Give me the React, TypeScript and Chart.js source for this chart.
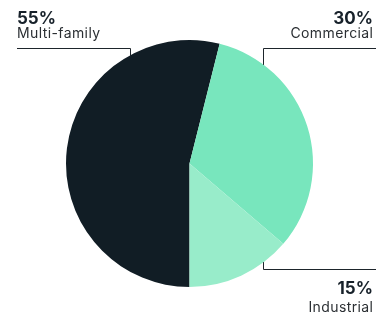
import React, { useEffect, useRef } from "react";
import { Chart, registerables } from "chart.js";

Chart.register(...registerables);

const categories = ["Multi-family", "Commercial", "Industrial"];
const values = [55, 33, 14];
const percentLabels = ["55%", "30%", "15%"];
const colors = ["#111d25", "#78e6bd", "#98ecca"];

const calloutPlugin = {
  id: "callouts",
  afterDatasetsDraw(chart: any) {
    const meta = chart.getDatasetMeta(0);
    const arc = meta.data[0];
    if (!arc) return;
    const cx = arc.x;
    const cy = arc.y;
    const r = arc.outerRadius;
    const ctx = chart.ctx;
    const W = chart.width;
    ctx.save();
    ctx.strokeStyle = "#1d252b";
    ctx.lineWidth = 1;
    const edgeY = (dx: number, sign: number) => cy + sign * Math.sqrt(r * r - dx * dx);
    const top = cy - r;
    const bottom = cy + r;
    const specs = [
      { i: 0, right: false, lineY: top + 8, dx: -60, sign: -1, pBase: top - 15.7, lBase: top - 2 },
      { i: 1, right: true, lineY: top + 8, dx: 73, sign: -1, pBase: top - 15.7, lBase: top - 2 },
      { i: 2, right: true, lineY: bottom - 18, dx: 73, sign: 1, pBase: bottom + 7.3, lBase: bottom + 25 },
    ];
    specs.forEach((s) => {
      const vx = Math.round(cx + s.dx) + 0.5;
      const ly = Math.round(s.lineY) + 0.5;
      const ey = edgeY(s.dx, s.sign) - s.sign * 1;
      ctx.beginPath();
      if (s.right) {
        ctx.moveTo(W, ly);
        ctx.lineTo(vx, ly);
      } else {
        ctx.moveTo(17, ly);
        ctx.lineTo(vx, ly);
      }
      ctx.lineTo(vx, ey);
      ctx.stroke();
      const tx = s.right ? W - 3 : 17;
      ctx.textAlign = s.right ? "right" : "left";
      ctx.textBaseline = "alphabetic";
      ctx.fillStyle = "#17212a";
      ctx.letterSpacing = "0px";
      ctx.font = "bold 17px Inter, 'Open Sans', sans-serif";
      ctx.fillText(percentLabels[s.i], tx, s.pBase);
      ctx.fillStyle = "#2b2f33";
      ctx.letterSpacing = "0.4px";
      ctx.font = "14px Inter, 'Open Sans', sans-serif";
      ctx.fillText(categories[s.i], tx + (s.right ? 0.4 : 0), s.lBase);
    });
    ctx.restore();
  },
};

export default function App() {
  const ref = useRef<HTMLCanvasElement | null>(null);
  useEffect(() => {
    if (!ref.current) return;
    const chart = new Chart(ref.current, {
      type: "pie",
      data: {
        labels: categories,
        datasets: [
          {
            data: values,
            backgroundColor: colors,
            borderWidth: 0,
          },
        ],
      },
      options: {
        responsive: false,
        animation: false,
        rotation: 180,
        layout: { padding: { top: 40, bottom: 29, left: 66, right: 63 } },
        plugins: {
          legend: { display: false },
          tooltip: { enabled: false },
        },
      },
      plugins: [calloutPlugin],
    });
    return () => chart.destroy();
  }, []);
  return (
    <div style={{ position: "fixed", left: 0, top: 0, width: 376, height: 316, background: "#fff" }}>
      <canvas ref={ref} width={376} height={316} style={{ display: "block" }} />
    </div>
  );
}
